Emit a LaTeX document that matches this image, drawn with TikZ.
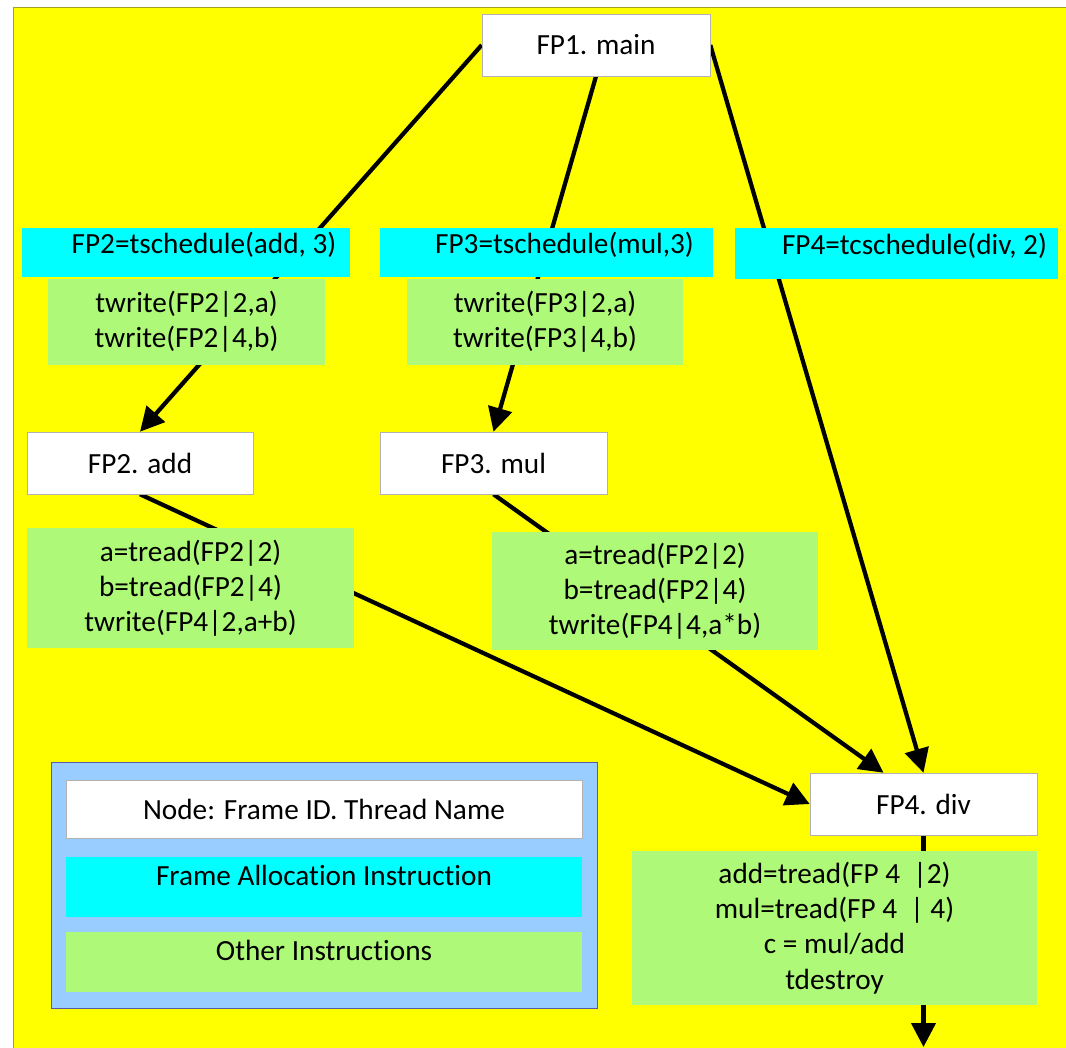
\documentclass[tikz,border=0pt]{standalone}
\usepackage{fontspec}
\setmainfont{Carlito}[Ligatures=NoCommon]
\usepackage{xcolor}
\usepackage{tikz}
\usetikzlibrary{arrows.meta, positioning, calc, backgrounds}

\definecolor{bgyellow}{RGB}{255,255,0}
\definecolor{alloccyan}{RGB}{0,255,255}
\definecolor{instgreen}{RGB}{175,249,120}
\definecolor{keyblue}{RGB}{153,204,255}

\begin{document}
\begin{tikzpicture}[
    font=\fontsize{20.8}{25}\selectfont,
    thread/.style={draw=gray!60, fill=white, rectangle, minimum height=1.55cm},
    alloc/.style={rectangle, fill=alloccyan, minimum height=1.225cm, inner ysep=0pt, text height=0.55cm, text depth=0.5cm, execute at begin node={\hspace*{0.9cm}}},
    instr/.style={rectangle, fill=instgreen, align=center},
    keybox/.style={rectangle, minimum width=12.9cm, minimum height=1.5cm, inner ysep=0pt, text height=0.55cm, text depth=0.65cm},
    flow/.style={line width=3pt, -{Triangle[length=0.6cm, width=0.6cm]}}
]
    \useasboundingbox (0,0) rectangle (26.65,-26.175);

    % Main thread
    \node[thread, minimum width=5.7cm] (fp1) at (14.9,-1.125) {FP1. main};

    % Frame allocations
    \node[alloc, minimum width=8.2cm] (s2) at (4.65,-6.3125) {FP2=tschedule(add, 3)};
    \node[alloc, minimum width=8.325cm] (s3) at (13.6625,-6.3125) {FP3=tschedule(mul,3)};
    \node[alloc, minimum width=8.075cm, minimum height=1.275cm] (s4) at (22.4125,-6.3375) {FP4=tcschedule(div, 2)};

    % Writes into the new frames
    \node[instr, minimum width=6.925cm, minimum height=2.15cm] (w2) at (4.6625,-8.05) {twrite(FP2|2,a)\\twrite(FP2|4,b)};
    \node[instr, minimum width=6.9cm, minimum height=2.15cm] (w3) at (13.625,-8.05) {twrite(FP3|2,a)\\twrite(FP3|4,b)};

    % Worker threads
    \node[thread, minimum width=5.65cm] (fp2) at (3.5,-11.575) {FP2. add};
    \node[thread, minimum width=5.675cm] (fp3) at (12.3375,-11.575) {FP3. mul};

    \node[instr, minimum width=8.175cm, minimum height=3cm] (b2) at (4.7625,-14.7) {a=tread(FP2|2)\\b=tread(FP2|4)\\twrite(FP4|2,a+b)};
    \node[instr, minimum width=8.15cm, minimum height=2.95cm] (b3) at (16.375,-14.775) {a=tread(FP2|2)\\b=tread(FP2|4)\\twrite(FP4|4,a*b)};

    % Join thread
    \node[thread, minimum width=5.675cm] (fp4) at (23.0875,-20.1) {FP4. div};
    \node[instr, minimum width=10.125cm, minimum height=3.85cm] (b4) at (20.8625,-23.2) {add=tread(FP 4~~|2)\\mul=tread(FP 4~~| 4)\\c = mul/add\\tdestroy};

    \coordinate (fp4in) at ($(fp4.north)+(-1,0)$);
    \coordinate (fp4out) at (23.0875,-26.175);

    % Legend
    \node[draw=gray!70!blue, fill=keyblue, rectangle, minimum width=13.65cm, minimum height=6.15cm] (legend) at (8.1,-22.125) {};
    \node[thread, minimum width=12.9cm, minimum height=1.45cm] (keythread) at (8.1,-20.225) {Node: Frame ID. Thread Name};
    \node[keybox, fill=alloccyan] (keyalloc) at (8.1,-22.175) {Frame Allocation Instruction};
    \node[keybox, fill=instgreen] (keyinstr) at (8.1,-24.05) {Other Instructions};

    % Background and arrows behind the boxes
    \begin{scope}[on background layer]
        \fill[bgyellow, draw=olive!80] (0.325,-0.175) rectangle (26.8,-26.3);
        \draw[flow] (fp1.west) -- (fp2.north);
        \draw[flow] (fp1.south) -- (fp3.north);
        \draw[flow] (fp1.east) -- (fp4.north);
        \draw[flow] (fp2.south) -- (fp4.west);
        \draw[flow] (fp3.south) -- (fp4in);
        \draw[flow] (fp4.south) -- (fp4out);
    \end{scope}
\end{tikzpicture}
\end{document}
